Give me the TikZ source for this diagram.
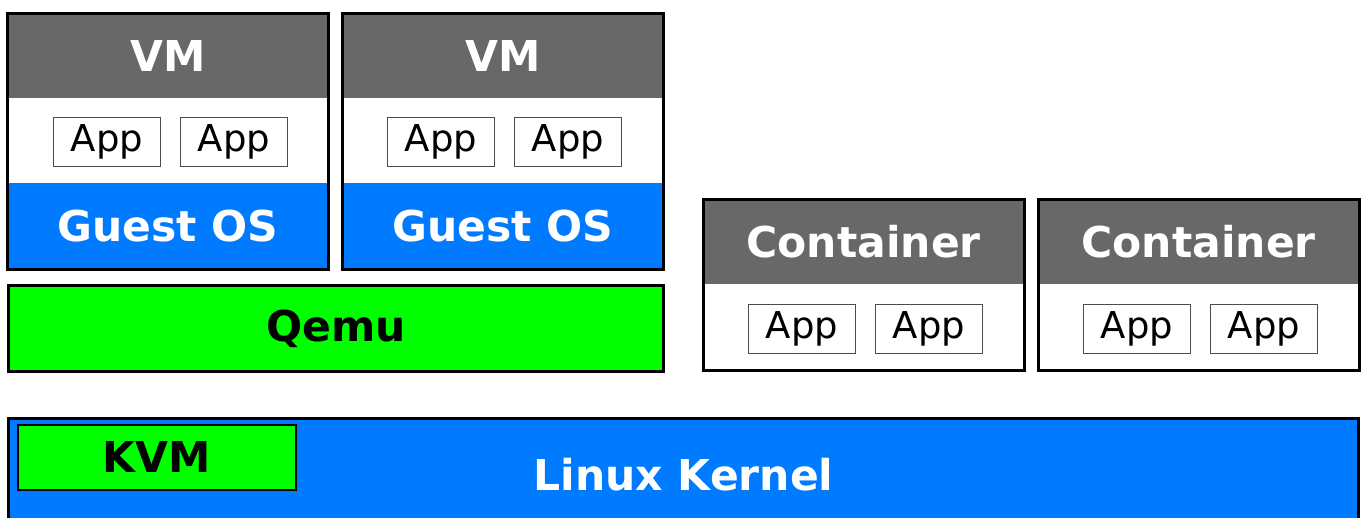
\documentclass[tikz,border=0pt]{standalone}
\usepackage{fontspec}
\setmainfont{DejaVu Sans}
\usepackage{tikz}
\usetikzlibrary{positioning}

\definecolor{hdrgray}{RGB}{104,104,104}
\definecolor{osblue}{RGB}{0,122,255}
\definecolor{hvgreen}{RGB}{0,255,0}

\begin{document}
\begin{tikzpicture}[x=1pt,y=-1pt,inner sep=0pt,
                    font=\fontsize{42.5}{50}\selectfont\bfseries]

  \tikzstyle{hdr}=[fill=hdrgray,text=white,anchor=north west,
                   minimum width=321pt,minimum height=85pt]
  \tikzstyle{guest}=[fill=osblue,text=white,anchor=north west,
                     minimum width=321pt,minimum height=86pt]
  \tikzstyle{body}=[fill=white,anchor=north west,
                    minimum width=321pt,minimum height=86pt]
  \tikzstyle{app}=[draw=black!70,line width=1pt,fill=white,
                   minimum width=107pt,minimum height=49pt,
                   font=\fontsize{37}{40}\selectfont\mdseries]
  \tikzstyle{frame}=[draw=black,line width=3pt,line join=miter]

  \clip (0,0) rectangle (1363,517);
  \useasboundingbox (0,0) rectangle (1363,517);

  % virtual machines
  \node[hdr]   (vm1)  at (7,13)   {VM};
  \node[guest] (os1)  at (7,183)  {Guest OS};
  \node[app]   (a11)  at (107,142) {App};
  \node[app]   (a12)  at (234,142) {App};
  \draw[frame] (vm1.north west) rectangle (os1.south east);

  \node[hdr]   (vm2)  at (342,13)  {VM};
  \node[guest] (os2)  at (342,183) {Guest OS};
  \node[app]   (a21)  at (441,142) {App};
  \node[app]   (a22)  at (568,142) {App};
  \draw[frame] (vm2.north west) rectangle (os2.south east);

  \node[frame,fill=hvgreen,anchor=north west,minimum width=655pt,
        minimum height=86pt] (qemu) at (7,284) {Qemu};

  % containers
  \node[hdr]   (ct1)  at (703,199)  {Container};
  \node[body]  (cb1)  at (703,284)  {};
  \node[app]   (c11)  at (802,329)  {App};
  \node[app]   (c12)  at (929,329)  {App};
  \draw[frame] (ct1.north west) rectangle (cb1.south east);

  \node[hdr]   (ct2)  at (1038,199) {Container};
  \node[body]  (cb2)  at (1038,284) {};
  \node[app]   (c21)  at (1137,329) {App};
  \node[app]   (c22)  at (1264,329) {App};
  \draw[frame] (ct2.north west) rectangle (cb2.south east);

  % kernel
  \node[frame,fill=osblue,text=white,anchor=north west,
        minimum width=1350pt,minimum height=112pt] (kernel) at (7,417) {Linux Kernel};
  \node[draw=black,line width=1.5pt,fill=hvgreen,anchor=north west,
        minimum width=278pt,minimum height=65pt] (kvm) at (17,424) {KVM};
\end{tikzpicture}
\end{document}
